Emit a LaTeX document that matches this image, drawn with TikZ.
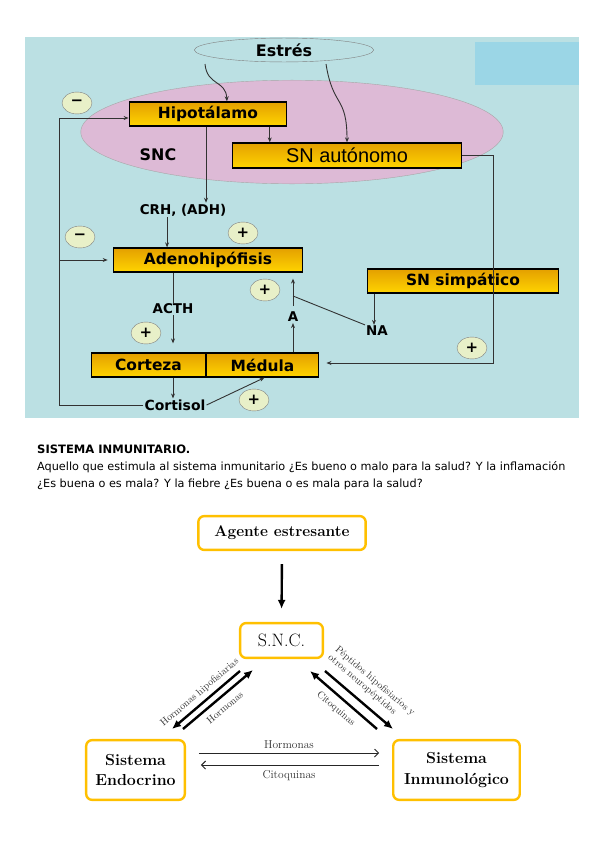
\documentclass[tikz,border=0pt]{standalone}
\usepackage{fontspec}
\newfontfamily\verdfont{DejaVu Sans}
\newfontfamily\arialfont{Liberation Sans}
\usepackage{tikz}
\usetikzlibrary{arrows.meta, calc, shapes.geometric, positioning}

\newcommand{\fsz}[1]{\fontsize{#1}{#1}\selectfont}
\definecolor{panelblue}{RGB}{187,224,227}
\definecolor{cornerblue}{RGB}{155,214,230}
\definecolor{snpink}{RGB}{221,186,214}
\definecolor{signfill}{RGB}{232,240,200}
\definecolor{goldtop}{RGB}{228,160,0}
\definecolor{goldbot}{RGB}{255,212,0}
\definecolor{linegray}{RGB}{50,50,50}
\definecolor{sysyellow}{RGB}{255,192,0}

\begin{document}
\begin{tikzpicture}[
    % one unit = one pixel of the page, y runs down
    x=1bp, y=-1bp,
    >=Stealth,
    goldbox/.style={draw=black, line width=1.4pt, top color=goldtop, bottom color=goldbot,
        inner sep=0pt, font=\verdfont\bfseries\fsz{15.5}},
    sign/.style={ellipse, draw=gray, fill=signfill, minimum width=30pt, minimum height=22pt,
        inner sep=0pt, font=\verdfont\bfseries\fsz{15}},
    lbl/.style={font=\verdfont\bfseries\fsz{13.5}, inner sep=1pt},
    conn/.style={draw=linegray, line width=0.9pt, -{Stealth[length=5pt,width=4pt]}},
    link/.style={draw=linegray, line width=0.9pt},
    sysbox/.style={draw=sysyellow, line width=2.4pt, rounded corners=6pt, fill=white,
        align=center, inner sep=0pt},
    bigline/.style={line width=2.4pt, >={Latex[length=9pt,width=8pt]}},
    thinline/.style={line width=0.9pt, draw=black!85, >={Straight Barb[length=4pt,width=8pt]}},
    small/.style={font=\fsz{10}, text=black!80, inner sep=1pt}
]
    \fill[white] (0,0) rectangle (599,848);
    \useasboundingbox (0,0) rectangle (599,848);

    % --- Stress axis panel ---
    \fill[panelblue] (25,37) rectangle (579,418);
    \fill[cornerblue] (475,42) rectangle (579,85);
    \node[ellipse, draw=gray!70, fill=snpink, minimum width=424pt, minimum height=104pt] (sncarea) at (292,132) {};
    \node[ellipse, draw=gray, fill=panelblue, minimum width=180pt, minimum height=24pt,
        inner sep=0pt, font=\verdfont\bfseries\fsz{16}] (estres) at (284,50) {Estrés};
    \node[lbl, font=\verdfont\bfseries\fsz{16}] (snc) at (158,155) {SNC};

    \node[goldbox, minimum width=158pt, minimum height=24pt] (hipot) at (208,114) {Hipotálamo};
    \node[goldbox, minimum width=230pt, minimum height=25pt, font=\arialfont\fsz{20}] (snaut) at (347,155.5) {SN autónomo};
    \node[lbl] (crh) at (183,210) {CRH, (ADH)};
    \node[goldbox, minimum width=190pt, minimum height=24pt] (adeno) at (208,260) {Adenohipófisis};
    \node[goldbox, minimum width=192pt, minimum height=24pt] (snsimp) at (463,281) {SN simpático};
    \node[lbl] (acth) at (173,309) {ACTH};
    \node[lbl] (na) at (377,331) {NA};
    \node[lbl] (adr) at (293,317) {A};
    \node[goldbox, minimum width=115pt, minimum height=24pt] (corteza) at (148.5,365) {Corteza};
    \node[goldbox, minimum width=113pt, minimum height=24pt] (medula) at (262.5,365) {Médula};
    \node[lbl, font=\verdfont\bfseries\fsz{14}] (cortisol) at (175,405) {Cortisol};

    % --- Signs ---
    \node[sign] (neg1) at (77,103) {−};
    \node[sign] (neg2) at (80,237) {−};
    \node[sign] (pos1) at (243,233) {+};
    \node[sign] (pos2) at (265,290) {+};
    \node[sign] (pos3) at (146,333) {+};
    \node[sign] (pos4) at (254,400) {+};
    \node[sign] (pos5) at (472,348) {+};

    % --- Connectors of the panel ---
    \coordinate (es1) at (205,64);
    \coordinate (es2) at (326,64);
    \draw[conn] (es1) .. controls (207,86) and (226,80) .. ([xshift=19pt]hipot.north);
    \draw[conn] (es2) .. controls (333,108) and (347,95) .. (snaut.north);
    \draw[conn] ([xshift=62pt]hipot.south) -- ([xshift=62pt]hipot.south |- snaut.north);
    \draw[conn] ([xshift=-2pt]hipot.south) -- ([xshift=-2pt]hipot.south |- crh.north);
    \draw[conn] ([xshift=-16pt]crh.south) -- ([xshift=-16pt]crh.south |- adeno.north);

    \coordinate (fbl) at (59,118);
    \draw[conn] (cortisol.west) -| (fbl) -- (fbl -| hipot.west);
    \draw[conn, shorten >=5pt] (adeno.west -| fbl) -- (adeno.west);
    \coordinate (fbr) at (493,363);
    \draw[conn, shorten >=7pt] (snaut.east) -| (fbr) -- (fbr -| medula.east);

    \draw[link] (acth.north |- adeno.south) -- (acth.north);
    \draw[conn, shorten >=9pt] (acth.south) -- (acth.south |- corteza.north);
    \draw[conn] ([xshift=-2pt]cortisol.north |- corteza.south) -- ([xshift=-2pt]cortisol.north);
    \draw[conn] (cortisol.east) -- ([xshift=2pt]medula.south);

    \draw[conn] (adr.south |- medula.north) -- (adr.south);
    \coordinate (atop) at (293,306);
    \coordinate (ajoin) at (293,296);
    \draw[conn, shorten >=6pt] (atop) -- (atop |- adeno.south);
    \draw[link] (ajoin) -- (na.north west);
    \draw[conn] ([xshift=-3pt]na.north |- snsimp.south) -- ([xshift=-3pt]na.north);

    % --- Text ---
    \node[anchor=west, inner sep=0pt, font=\verdfont\bfseries\fsz{11.6}] (titulo) at (37,449) {SISTEMA INMUNITARIO.};
    \node[anchor=north west, inner sep=0pt, align=left, font=\verdfont\fontsize{11.3}{17}\selectfont] (parrafo) at (37,461)
        {Aquello que estimula al sistema inmunitario ¿Es bueno o malo para la salud? Y la inflamación\\
         ¿Es buena o es mala? Y la fiebre ¿Es buena o es mala para la salud?};

    % --- Neuro-immune-endocrine triangle ---
    \node[sysbox, minimum width=168pt, minimum height=34pt, font=\bfseries\fsz{15.5}] (agente) at (282,533) {Agente estresante};
    \node[sysbox, minimum width=83pt, minimum height=35pt, font=\fsz{18}] (sncbox) at (281.5,640.5) {S.N.C.};
    \node[sysbox, minimum width=99pt, minimum height=60pt, font=\bfseries\fontsize{16}{21}\selectfont] (endo) at (135.5,770) {Sistema\\Endocrino};
    \node[sysbox, minimum width=127pt, minimum height=60pt, font=\bfseries\fontsize{16}{21}\selectfont] (inmuno) at (456.5,770) {Sistema\\Inmunológico};

    \draw[bigline, ->, shorten <=13pt, shorten >=13pt] (agente.south) -- (sncbox.north);

    \coordinate (d1a) at (172,729); \coordinate (d1b) at (240,671);
    \coordinate (d2a) at (183,729); \coordinate (d2b) at (253,670);
    \coordinate (d3a) at (310,671); \coordinate (d3b) at (377,729);
    \coordinate (d4a) at (325,671); \coordinate (d4b) at (393,729);
    \draw[bigline, <-] (d1a) -- node[sloped, above=3pt, small] {Hormonas hipofisiarias} (d1b);
    \draw[bigline, ->] (d2a) -- node[sloped, below=5pt, small] {Hormonas} (d2b);
    \draw[bigline, <-] (d3a) -- node[sloped, below=5pt, small] {Citoquinas} (d3b);
    \draw[bigline, ->] (d4a) -- node[sloped, above=7pt, small, align=left, font=\fontsize{10}{11}\selectfont]
        {Péptidos hipofisiarios y\\otros neuropéptidos} (d4b);

    \draw[thinline, ->, shorten <=13pt, shorten >=13pt] ([yshift=17pt]endo.east)
        -- node[above=3pt, small, font=\fsz{11.5}] {Hormonas} ([yshift=17pt]endo.east -| inmuno.west);
    \draw[thinline, <-, shorten <=15pt, shorten >=13pt] ([yshift=5pt]endo.east)
        -- node[below=4pt, small, font=\fsz{11.5}] {Citoquinas} ([yshift=5pt]endo.east -| inmuno.west);
\end{tikzpicture}
\end{document}
